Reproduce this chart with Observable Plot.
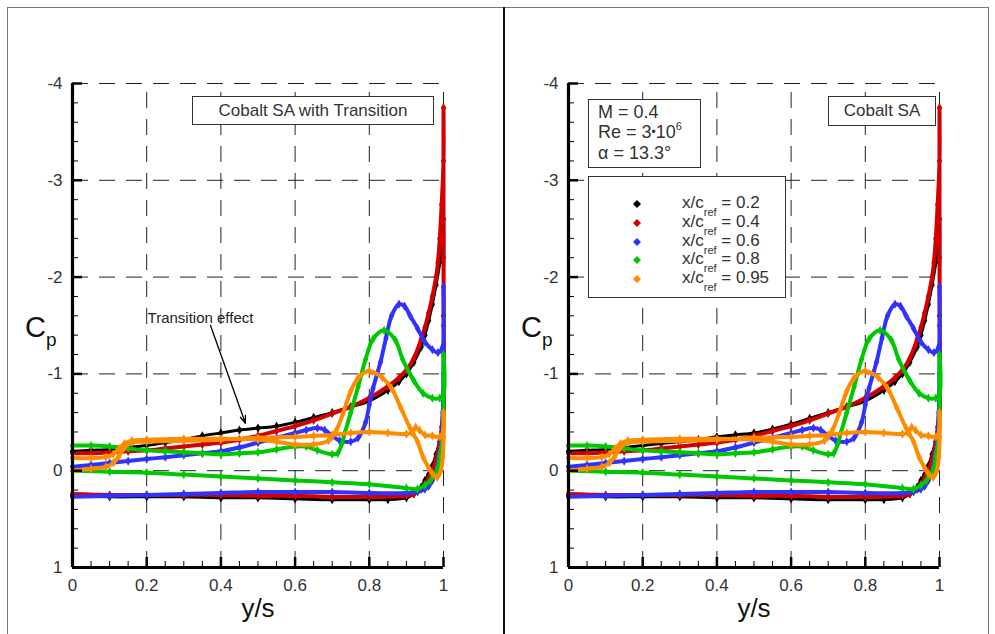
<!DOCTYPE html>
<html>
<head>
<meta charset="utf-8">
<script src="https://cdn.jsdelivr.net/npm/d3@7"></script>
<script src="https://cdn.jsdelivr.net/npm/@observablehq/plot@0.6"></script>
<style>
  html, body { margin: 0; padding: 0; background: #fff; }
  #root { position: relative; width: 995px; height: 634px; overflow: hidden; background: #fff; font-family: "Liberation Sans", Arial, sans-serif; color: #333; }
  .panel { position: absolute; top: 0; }
  .box { position: absolute; border: 1px solid #333; background: #fff; box-sizing: border-box; font-size: 17px; color: #333; }
  sub, sup { line-height: 0; }
</style>
</head>
<body>
<div id="root"></div>
<script>
// ---------------- data (y/s, Cp) ----------------
const xTicks = [0, 0.2, 0.4, 0.6, 0.8, 1];
const xTickLabels = ["0", "0.2", "0.4", "0.6", "0.8", "1"];
const yTicks = [-4, -3, -2, -1, 0, 1];
const yTickLabels = ["-4", "-3", "-2", "-1", "0", "1"];
const gridX = [0.2, 0.4, 0.6, 0.8, 1];
const gridY = [-4, -3, -2, -1, 0];

const stations = ["0.2", "0.4", "0.6", "0.8", "0.95"];
const stationColors = ["#000000", "#d40000", "#3232ff", "#00c800", "#ff8c00"];

// x/c = 0.2 (SA)
const cp02Upper = [[0,-0.2],[0.05,-0.21],[0.1,-0.22],[0.15,-0.24],[0.2,-0.26],[0.25,-0.28],[0.3,-0.3],[0.35,-0.32],[0.4,-0.35],[0.45,-0.37],[0.5,-0.39],[0.55,-0.43],[0.6,-0.48],[0.65,-0.54],[0.7,-0.6],[0.75,-0.66],[0.8,-0.72],[0.85,-0.83],[0.88,-0.92],[0.9,-1.0],[0.92,-1.12],[0.94,-1.28],[0.95,-1.4],[0.96,-1.55],[0.97,-1.72],[0.98,-1.92],[0.99,-2.15],[0.995,-2.35],[1.0,-2.6]];
// x/c = 0.2 (SA with transition)
const cp02UpperTr = [[0,-0.2],[0.05,-0.21],[0.1,-0.22],[0.15,-0.24],[0.2,-0.26],[0.25,-0.29],[0.3,-0.32],[0.35,-0.36],[0.4,-0.39],[0.45,-0.42],[0.5,-0.44],[0.55,-0.46],[0.6,-0.5],[0.65,-0.55],[0.7,-0.6],[0.75,-0.66],[0.8,-0.72],[0.85,-0.83],[0.88,-0.92],[0.9,-1.0],[0.92,-1.12],[0.94,-1.28],[0.95,-1.4],[0.96,-1.55],[0.97,-1.72],[0.98,-1.92],[0.99,-2.15],[0.995,-2.35],[1.0,-2.6]];
const cp02Lower = [[1.0,-1.6],[1.0,-0.5],[0.99,-0.3],[0.98,-0.17],[0.97,-0.05],[0.96,0.04],[0.95,0.1],[0.94,0.17],[0.92,0.24],[0.9,0.28],[0.85,0.3],[0.8,0.3],[0.7,0.3],[0.6,0.29],[0.5,0.28],[0.4,0.28],[0.3,0.27],[0.2,0.27],[0.1,0.27],[0,0.26]];

// x/c = 0.4
const cp04Upper = [[0,-0.18],[0.05,-0.18],[0.1,-0.19],[0.15,-0.2],[0.2,-0.21],[0.25,-0.23],[0.3,-0.25],[0.35,-0.27],[0.4,-0.29],[0.45,-0.32],[0.5,-0.36],[0.55,-0.41],[0.6,-0.46],[0.65,-0.52],[0.7,-0.59],[0.75,-0.66],[0.8,-0.75],[0.85,-0.87],[0.88,-0.96],[0.9,-1.04],[0.92,-1.16],[0.94,-1.36],[0.95,-1.48],[0.96,-1.63],[0.97,-1.8],[0.98,-2.0],[0.985,-2.15],[0.99,-2.4],[0.995,-2.75],[1.0,-3.2],[1.0,-3.75]];
const cp04Lower = [[1.0,-2.2],[1.0,-0.7],[0.995,-0.45],[0.99,-0.3],[0.98,-0.12],[0.97,0.0],[0.96,0.08],[0.95,0.14],[0.94,0.19],[0.92,0.24],[0.9,0.26],[0.8,0.27],[0.7,0.27],[0.6,0.26],[0.5,0.26],[0.4,0.25],[0.3,0.25],[0.2,0.25],[0.1,0.25],[0,0.24]];

// x/c = 0.6
const cp06Upper = [[0,-0.04],[0.05,-0.06],[0.1,-0.08],[0.15,-0.1],[0.2,-0.12],[0.25,-0.14],[0.3,-0.16],[0.35,-0.18],[0.4,-0.2],[0.45,-0.24],[0.5,-0.29],[0.55,-0.34],[0.6,-0.39],[0.63,-0.42],[0.66,-0.44],[0.68,-0.42],[0.7,-0.36],[0.72,-0.31],[0.75,-0.3],[0.77,-0.34],[0.79,-0.5],[0.8,-0.68],[0.81,-0.85],[0.83,-1.12],[0.845,-1.37],[0.86,-1.6],[0.88,-1.72],[0.895,-1.7],[0.91,-1.6],[0.93,-1.47],[0.95,-1.33],[0.97,-1.25],[0.985,-1.22],[0.997,-1.27],[1.0,-1.5],[1.0,-1.9]];
const cp06Lower = [[1.0,-1.0],[0.998,-0.6],[0.995,-0.35],[0.99,-0.2],[0.98,0.0],[0.97,0.1],[0.96,0.16],[0.95,0.19],[0.93,0.22],[0.9,0.23],[0.8,0.23],[0.7,0.22],[0.6,0.22],[0.5,0.22],[0.4,0.23],[0.3,0.24],[0.2,0.25],[0.1,0.26],[0,0.27]];

// x/c = 0.8
const cp08Upper = [[0,-0.26],[0.05,-0.26],[0.1,-0.25],[0.15,-0.23],[0.2,-0.21],[0.25,-0.2],[0.3,-0.19],[0.35,-0.18],[0.4,-0.17],[0.45,-0.18],[0.5,-0.19],[0.55,-0.22],[0.6,-0.25],[0.63,-0.25],[0.66,-0.21],[0.7,-0.17],[0.715,-0.18],[0.725,-0.27],[0.735,-0.4],[0.75,-0.6],[0.77,-0.87],[0.79,-1.15],[0.81,-1.36],[0.84,-1.45],[0.87,-1.35],[0.89,-1.15],[0.92,-0.93],[0.945,-0.8],[0.97,-0.75],[0.99,-0.75],[1.0,-0.8],[1.0,-1.2]];
const cp08Lower = [[1.0,-0.6],[0.998,-0.35],[0.99,-0.15],[0.985,-0.03],[0.975,0.05],[0.965,0.1],[0.95,0.15],[0.93,0.19],[0.9,0.18],[0.8,0.14],[0.7,0.12],[0.6,0.1],[0.5,0.08],[0.4,0.06],[0.3,0.04],[0.2,0.02],[0.1,0.01],[0,0.0]];

// x/c = 0.95
const cp095Upper = [[0,-0.13],[0.05,-0.13],[0.09,-0.14],[0.11,-0.17],[0.125,-0.23],[0.14,-0.28],[0.16,-0.31],[0.2,-0.32],[0.3,-0.33],[0.4,-0.33],[0.5,-0.32],[0.55,-0.3],[0.6,-0.27],[0.65,-0.27],[0.69,-0.31],[0.71,-0.41],[0.73,-0.6],[0.75,-0.82],[0.77,-0.96],[0.8,-1.03],[0.835,-0.96],[0.86,-0.85],[0.885,-0.65],[0.91,-0.44],[0.93,-0.3],[0.945,-0.14],[0.96,-0.03],[0.97,0.03],[0.983,0.07],[0.993,0.0],[0.998,-0.15],[1.0,-0.35],[1.0,-0.6]];
const cp095Lower = [[1.0,-0.42],[0.99,-0.35],[0.97,-0.36],[0.95,-0.37],[0.935,-0.42],[0.925,-0.45],[0.915,-0.39],[0.9,-0.38],[0.85,-0.39],[0.8,-0.4],[0.75,-0.39],[0.7,-0.37],[0.65,-0.36],[0.6,-0.35],[0.5,-0.34],[0.4,-0.32],[0.3,-0.31],[0.2,-0.3],[0.16,-0.29],[0.14,-0.24],[0.125,-0.15],[0.11,-0.08],[0.09,-0.04],[0.05,-0.02],[0,0.0]];

// annotation (left panel)
const noteText = "Transition effect";
const notePos = [0.345, -1.58];
const arrowFrom = [0.372, -1.50];
const arrowTo = [0.466, -0.49];

// ---------------- build ----------------
function rows(pts, station) { return pts.map(([ys, cp]) => ({ys, cp, station})); }

function seriesFor(transition) {
  return [
    rows((transition ? cp02UpperTr : cp02Upper).concat(cp02Lower), stations[0]),
    rows(cp04Upper.concat(cp04Lower), stations[1]),
    rows(cp06Upper.concat(cp06Lower), stations[2]),
    rows(cp08Upper.concat(cp08Lower), stations[3]),
    rows(cp095Upper.concat(cp095Lower), stations[4])
  ];
}

const W = 495, H = 634, ML = 72, MR = 52, MT = 83, MB = 67;
const pxX = 1 / (W - ML - MR);        // data units per pixel (x)
const pxY = 5 / (H - MT - MB);        // data units per pixel (y)
const minorX = d3.range(0.05, 1.0001, 0.05).filter(v => Math.abs(v * 5 - Math.round(v * 5)) > 1e-6);
const minorY = d3.range(-3.8, 1.0001, 0.2).filter(v => Math.abs(v - Math.round(v)) > 1e-6);

function makePanel(transition) {
  const groups = seriesFor(transition);
  const marks = [
    Plot.ruleY(gridY, {x1: 0, x2: 1, stroke: "#222", strokeWidth: 1, strokeDasharray: "16,11"}),
    Plot.ruleX(gridX, {y1: 1, y2: -4, stroke: "#222", strokeWidth: 1, strokeDasharray: "16,11"})
  ];
  groups.forEach((g, i) => {
    marks.push(Plot.line(g, {x: "ys", y: "cp", stroke: stationColors[i], strokeWidth: i === 0 ? 3 : 4, curve: "catmull-rom"}));
    marks.push(Plot.dot(g, {x: "ys", y: "cp", fill: stationColors[i], symbol: "diamond", r: 2.8}));
  });
  marks.push(
    // minor & major ticks (inward)
    Plot.ruleY(minorY, {x1: 0, x2: 6 * pxX, stroke: "#000", strokeWidth: 1}),
    Plot.ruleX(minorX, {y1: 1, y2: 1 - 6 * pxY, stroke: "#000", strokeWidth: 1}),
    Plot.ruleY(yTicks, {x1: 0, x2: 10 * pxX, stroke: "#000", strokeWidth: 2.5}),
    Plot.ruleX(xTicks, {y1: 1, y2: 1 - 10 * pxY, stroke: "#000", strokeWidth: 2.5}),
    // axis lines
    Plot.ruleX([0], {y1: 1, y2: -4, stroke: "#000", strokeWidth: 3.2}),
    Plot.ruleY([1], {x1: 0, x2: 1, stroke: "#000", strokeWidth: 3.2}),
    // tick labels
    Plot.text(xTicks, {x: d => d, y: 1, text: (d, i) => xTickLabels[i], dy: 18, fontSize: 17, fill: "#333", textAnchor: "middle"}),
    Plot.text(yTicks, {x: 0, y: d => d, text: (d, i) => yTickLabels[i], dx: -10, fontSize: 17, fill: "#333", textAnchor: "end"}),
    Plot.text(["y/s"], {x: 0.5, y: 1, text: d => d, dy: 41, fontSize: 26, fill: "#111", textAnchor: "middle"})
  );
  if (transition) {
    marks.push(
      Plot.arrow([0], {x1: arrowFrom[0], y1: arrowFrom[1], x2: arrowTo[0], y2: arrowTo[1], stroke: "#000", strokeWidth: 1.3, headLength: 9, headAngle: 40}),
      Plot.text([noteText], {x: notePos[0], y: notePos[1], text: d => d, fontSize: 15, fill: "#222", textAnchor: "middle"})
    );
  }
  return Plot.plot({
    width: W, height: H,
    marginLeft: ML, marginRight: MR, marginTop: MT, marginBottom: MB,
    x: {domain: [0, 1], axis: null},
    y: {domain: [1, -4], axis: null},
    style: {background: "transparent", fontFamily: "'Liberation Sans', Arial, sans-serif", overflow: "visible"},
    marks
  });
}

const root = document.getElementById("root");

// frame
const frame = document.createElement("div");
frame.style.cssText = "position:absolute;left:7px;top:7px;width:982px;height:660px;border:1px solid #777;box-sizing:border-box;";
root.appendChild(frame);
const sep = document.createElement("div");
sep.style.cssText = "position:absolute;left:503px;top:7px;width:1.5px;height:640px;background:#111;";
root.appendChild(sep);

[false, true].forEach((tr, k) => {
  const p = makePanel(!tr ? true : false);
  p.classList.add("panel");
  p.style.left = (k === 0 ? 0 : 496) + "px";
  root.appendChild(p);
  // Cp label
  const cp = document.createElement("div");
  cp.style.cssText = `position:absolute;left:${(k === 0 ? 0 : 496) + 25}px;top:311px;font-size:29px;color:#111;`;
  cp.innerHTML = 'C<span style="font-size:19px;position:relative;top:9px;">p</span>';
  root.appendChild(cp);
});

function addBox(left, top, w, h, html, extra) {
  const b = document.createElement("div");
  b.className = "box";
  b.style.cssText += `left:${left}px;top:${top}px;width:${w}px;height:${h}px;` + (extra || "");
  b.innerHTML = html;
  root.appendChild(b);
  return b;
}

addBox(192, 96, 242, 29, "Cobalt SA with Transition", "display:flex;align-items:center;justify-content:center;font-size:17px;");
addBox(828, 96, 108, 30, "Cobalt SA", "display:flex;align-items:center;justify-content:center;font-size:17px;");
addBox(588, 99, 113, 69,
  '<div style="position:absolute;left:9px;top:3px;font-size:18px;line-height:19.5px;">M = 0.4<br>Re = 3<span style="font-size:12px;position:relative;top:-2px;">&#8226;</span>10<sup style="font-size:11px;position:relative;top:-1px;">6</sup><br>&alpha; = 13.3&deg;</div>');

const leg = addBox(588, 176, 198, 122, "");
const rowY = [27, 46, 65, 83, 102];
stations.forEach((s, i) => {
  const m = document.createElementNS("http://www.w3.org/2000/svg", "svg");
  m.setAttribute("width", "10"); m.setAttribute("height", "10");
  m.style.cssText = `position:absolute;left:43px;top:${rowY[i] - 5}px;`;
  m.innerHTML = `<polygon points="5,1 9,5 5,9 1,5" fill="${stationColors[i]}"/>`;
  leg.appendChild(m);
  const t = document.createElement("div");
  t.style.cssText = `position:absolute;left:93px;top:${rowY[i] - 11}px;font-size:17px;line-height:20px;white-space:nowrap;`;
  t.innerHTML = `x/c<sub style="font-size:11px;position:relative;top:4px;">ref</sub> = ${s}`;
  leg.appendChild(t);
});
</script>
</body>
</html>
